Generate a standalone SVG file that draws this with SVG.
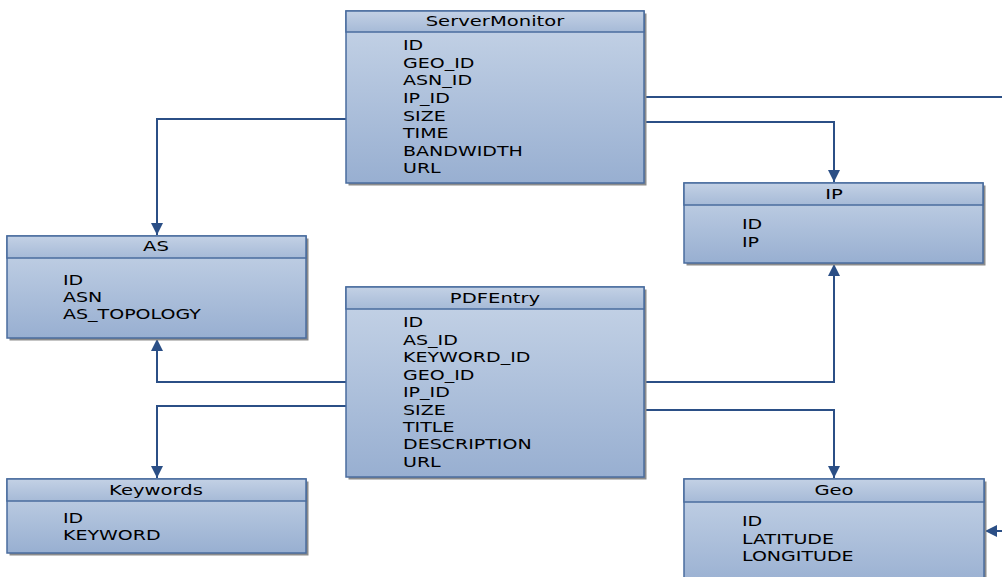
<svg xmlns="http://www.w3.org/2000/svg" width="1002" height="577" viewBox="0 0 1002 577">
<style>
.sh{fill:#8c8c8c}
.bd{fill:url(#gb);stroke:#4a6c9e;stroke-width:1.5}
.hd{fill:url(#gh);stroke:#4a6c9e;stroke-width:1.5}
.t{font-family:"DejaVu Sans","Open Sans",sans-serif;font-size:13.4px;fill:#000}
.c{text-anchor:middle;font-size:13.8px}
.cn{fill:none;stroke:#2b4f86;stroke-width:2}
</style>
<defs>
<linearGradient id="gb" x1="0" y1="0" x2="0" y2="1"><stop offset="0" stop-color="#c6d4e7"/><stop offset="1" stop-color="#98afd1"/></linearGradient>
<linearGradient id="gh" x1="0" y1="0" x2="0" y2="1"><stop offset="0" stop-color="#c3d1e5"/><stop offset="1" stop-color="#a6bad7"/></linearGradient>
<marker id="ar" viewBox="0 0 10 10" refX="10" refY="5" markerWidth="6" markerHeight="6" orient="auto" markerUnits="strokeWidth"><path d="M0,0 L10,5 L0,10 z" fill="#2b4f86"/></marker>
</defs>

<g id="connectors">
<path class="cn" d="M346,119 H157 V235" marker-end="url(#ar)"/>
<path class="cn" d="M644,97 H1010 V531 H985" marker-end="url(#ar)"/>
<path class="cn" d="M644,122 H834 V182" marker-end="url(#ar)"/>
<path class="cn" d="M346,382 H157 V339" marker-end="url(#ar)"/>
<path class="cn" d="M346,406 H157 V478" marker-end="url(#ar)"/>
<path class="cn" d="M644,382 H834 V264" marker-end="url(#ar)"/>
<path class="cn" d="M644,410 H834 V478" marker-end="url(#ar)"/>
</g>

<g id="ServerMonitor">
<rect class="sh" x="348.5" y="13.5" width="298" height="172"/>
<rect class="bd" x="346" y="11" width="298" height="172"/>
<rect class="hd" x="346" y="11" width="298" height="21"/>
<text class="t c" transform="translate(495 26) scale(1.42 1)">ServerMonitor</text>
<text class="t" transform="translate(403 50) scale(1.42 1)">ID</text>
<text class="t" transform="translate(403 68) scale(1.42 1)">GEO_ID</text>
<text class="t" transform="translate(403 85) scale(1.42 1)">ASN_ID</text>
<text class="t" transform="translate(403 103) scale(1.42 1)">IP_ID</text>
<text class="t" transform="translate(403 121) scale(1.42 1)">SIZE</text>
<text class="t" transform="translate(403 138) scale(1.42 1)">TIME</text>
<text class="t" transform="translate(403 156) scale(1.42 1)">BANDWIDTH</text>
<text class="t" transform="translate(403 173) scale(1.42 1)">URL</text>
</g>

<g id="AS">
<rect class="sh" x="9.5" y="238.5" width="299" height="102"/>
<rect class="bd" x="7" y="236" width="299" height="102"/>
<rect class="hd" x="7" y="236" width="299" height="22"/>
<text class="t c" transform="translate(156 251) scale(1.42 1)">AS</text>
<text class="t" transform="translate(63 285) scale(1.42 1)">ID</text>
<text class="t" transform="translate(63 302) scale(1.42 1)">ASN</text>
<text class="t" transform="translate(63 319) scale(1.42 1)">AS_TOPOLOGY</text>
</g>

<g id="IP">
<rect class="sh" x="686.5" y="185.5" width="299" height="80"/>
<rect class="bd" x="684" y="183" width="299" height="80"/>
<rect class="hd" x="684" y="183" width="299" height="22"/>
<text class="t c" transform="translate(834 199) scale(1.42 1)">IP</text>
<text class="t" transform="translate(742 229) scale(1.42 1)">ID</text>
<text class="t" transform="translate(742 247) scale(1.42 1)">IP</text>
</g>

<g id="PDFEntry">
<rect class="sh" x="348.5" y="289.5" width="298" height="190"/>
<rect class="bd" x="346" y="287" width="298" height="190"/>
<rect class="hd" x="346" y="287" width="298" height="22"/>
<text class="t c" transform="translate(495 303) scale(1.42 1)">PDFEntry</text>
<text class="t" transform="translate(403 327) scale(1.42 1)">ID</text>
<text class="t" transform="translate(403 345) scale(1.42 1)">AS_ID</text>
<text class="t" transform="translate(403 362) scale(1.42 1)">KEYWORD_ID</text>
<text class="t" transform="translate(403 380) scale(1.42 1)">GEO_ID</text>
<text class="t" transform="translate(403 397) scale(1.42 1)">IP_ID</text>
<text class="t" transform="translate(403 415) scale(1.42 1)">SIZE</text>
<text class="t" transform="translate(403 432) scale(1.42 1)">TITLE</text>
<text class="t" transform="translate(403 449) scale(1.42 1)">DESCRIPTION</text>
<text class="t" transform="translate(403 467) scale(1.42 1)">URL</text>
</g>

<g id="Keywords">
<rect class="sh" x="9.5" y="481.5" width="299" height="74"/>
<rect class="bd" x="7" y="479" width="299" height="74"/>
<rect class="hd" x="7" y="479" width="299" height="22"/>
<text class="t c" transform="translate(156 495) scale(1.42 1)">Keywords</text>
<text class="t" transform="translate(63 523) scale(1.42 1)">ID</text>
<text class="t" transform="translate(63 540) scale(1.42 1)">KEYWORD</text>
</g>

<g id="Geo">
<rect class="sh" x="686.5" y="481.5" width="300" height="110"/>
<rect class="bd" x="684" y="479" width="300" height="110"/>
<rect class="hd" x="684" y="479" width="300" height="23"/>
<text class="t c" transform="translate(834 495) scale(1.42 1)">Geo</text>
<text class="t" transform="translate(742 526) scale(1.42 1)">ID</text>
<text class="t" transform="translate(742 544) scale(1.42 1)">LATITUDE</text>
<text class="t" transform="translate(742 561) scale(1.42 1)">LONGITUDE</text>
</g>
</svg>
